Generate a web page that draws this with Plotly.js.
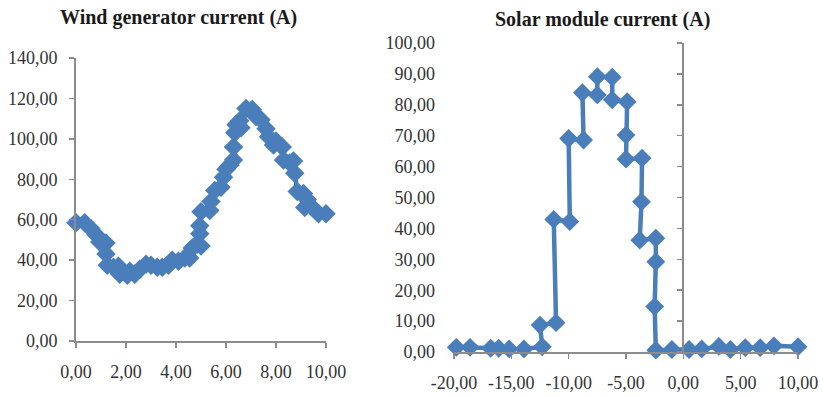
<!DOCTYPE html>
<html>
<head>
<meta charset="utf-8">
<script src="https://cdn.plot.ly/plotly-3.0.1.min.js"></script>
<style>html,body{margin:0;padding:0;background:#fff;}#chart{width:823px;height:396px;}</style>
</head>
<body>
<div id="chart"></div>
<script>
// Wind generator current (A)
const windX = [0.00,0.35,0.60,0.80,0.95,1.20,1.20,1.25,1.50,1.70,1.75,2.05,2.15,2.35,2.55,2.80,3.00,3.25,3.45,3.70,3.85,4.10,4.35,4.55,4.65,4.85,4.95,5.00,4.95,5.00,5.35,5.40,5.55,5.80,5.90,6.00,6.15,6.30,6.30,6.35,6.40,6.60,6.55,6.80,7.05,7.20,7.40,7.60,7.70,7.90,8.00,8.25,8.30,8.55,8.70,8.75,8.85,9.10,9.25,9.15,9.50,9.70,10.00];
const windY = [58.5,58.5,55.5,52.5,49.0,48.5,43.0,37.5,36.5,37.0,33.0,32.5,34.5,33.0,35.5,38.0,37.5,36.5,36.5,37.5,40.0,39.5,41.0,41.0,46.0,48.0,53.0,47.0,57.0,64.0,64.5,69.0,74.5,76.0,81.0,85.0,87.0,89.5,96.0,103.0,107.0,105.5,109.0,115.0,114.5,111.0,109.5,105.0,101.0,97.0,99.0,96.0,89.5,88.0,89.0,83.0,74.0,73.0,70.0,66.0,65.5,63.0,63.0];

// Solar module current (A)
const solarX = [-19.8,-18.6,-16.8,-16.1,-15.2,-13.9,-12.3,-12.5,-11.1,-11.3,-9.9,-10.0,-8.7,-8.8,-7.5,-7.5,-6.2,-6.2,-4.9,-5.0,-5.0,-3.6,-3.65,-3.8,-2.4,-2.4,-2.5,-2.4,-1.0,0.5,1.6,3.1,4.1,5.4,6.7,7.9,10.0];
const solarY = [1.5,1.5,1.2,1.2,1.0,1.0,1.7,8.7,9.5,42.9,42.2,69.1,68.6,83.9,83.2,89.1,88.9,81.6,81.0,70.2,62.4,62.7,48.6,36.2,36.8,29.2,14.7,0.6,0.8,0.8,1.0,1.8,0.8,1.4,1.4,2.0,1.7];

// Solar chart x tick labels (hyphen minus as in the original)
const solarXTickVals = [-20, -15, -10, -5, 0, 5, 10];
const solarXTickText = ['-20,00', '-15,00', '-10,00', '-5,00', '0,00', '5,00', '10,00'];

const windTitle = 'Wind generator current (A)';
const solarTitle = 'Solar module current (A)';

const W = 823, H = 396;
const blue = '#4a7ebb';
const axisGray = '#8c8c8c';
const font = {family: 'Liberation Serif, Times New Roman, serif', size: 18, color: '#333333'};
const titleFont = {family: 'Liberation Serif, Times New Roman, serif', size: 20, color: '#1a1a1a'};

const traces = [
  {x: windX, y: windY, xaxis: 'x', yaxis: 'y', mode: 'lines+markers', cliponaxis: false,
   line: {color: blue, width: 4.5}, marker: {symbol: 'diamond', size: 15, color: blue},
   hoverinfo: 'skip', showlegend: false},
  {x: solarX, y: solarY, xaxis: 'x2', yaxis: 'y2', mode: 'lines+markers', cliponaxis: false,
   line: {color: blue, width: 4.5}, marker: {symbol: 'diamond', size: 14.5, color: blue},
   hoverinfo: 'skip', showlegend: false},
  {x: [], y: [], xaxis: 'x2', yaxis: 'y3', mode: 'markers', hoverinfo: 'skip', showlegend: false}
];

const common = {showgrid: false, zeroline: false, showline: true, linecolor: axisGray, linewidth: 2,
  ticks: 'outside', ticklen: 5, tickwidth: 1.5, tickcolor: axisGray, tickformat: '.2f', tickfont: font, fixedrange: true};

const layout = {
  width: W, height: H,
  margin: {l: 0, r: 0, t: 0, b: 0},
  paper_bgcolor: '#ffffff', plot_bgcolor: 'rgba(0,0,0,0)',
  separators: ', ',
  font: font,
  xaxis: Object.assign({}, common, {domain: [76/W, 326/W], range: [0, 10], dtick: 2, tick0: 0, anchor: 'y', ticklabelstandoff: 8}),
  yaxis: Object.assign({}, common, {domain: [(H-341)/H, (H-58)/H], range: [0, 140], dtick: 20, tick0: 0, anchor: 'x', ticklabelstandoff: 8}),
  xaxis2: Object.assign({}, common, {domain: [454/W, 798/W], range: [-20, 10], tickmode: 'array',
    tickvals: solarXTickVals, ticktext: solarXTickText, anchor: 'y2', ticklabelstandoff: 8}),
  yaxis2: Object.assign({}, common, {domain: [(H-352)/H, (H-43)/H], range: [0, 100], dtick: 10, tick0: 0, anchor: 'x2',
    showline: false, ticks: '', ticklabelstandoff: 18}),
  yaxis3: Object.assign({}, common, {overlaying: 'y2', anchor: 'free', position: 683/W, range: [0, 100], dtick: 10, tick0: 0,
    showticklabels: false}),
  annotations: [
    {text: '<b>' + windTitle + '</b>', xref: 'paper', yref: 'paper', x: 178/W, y: (H-18)/H, xanchor: 'center', yanchor: 'middle',
     showarrow: false, font: titleFont},
    {text: '<b>' + solarTitle + '</b>', xref: 'paper', yref: 'paper', x: 602/W, y: (H-20)/H, xanchor: 'center', yanchor: 'middle',
     showarrow: false, font: titleFont}
  ]
};

Plotly.newPlot('chart', traces, layout, {staticPlot: true, displayModeBar: false});
</script>
</body>
</html>
